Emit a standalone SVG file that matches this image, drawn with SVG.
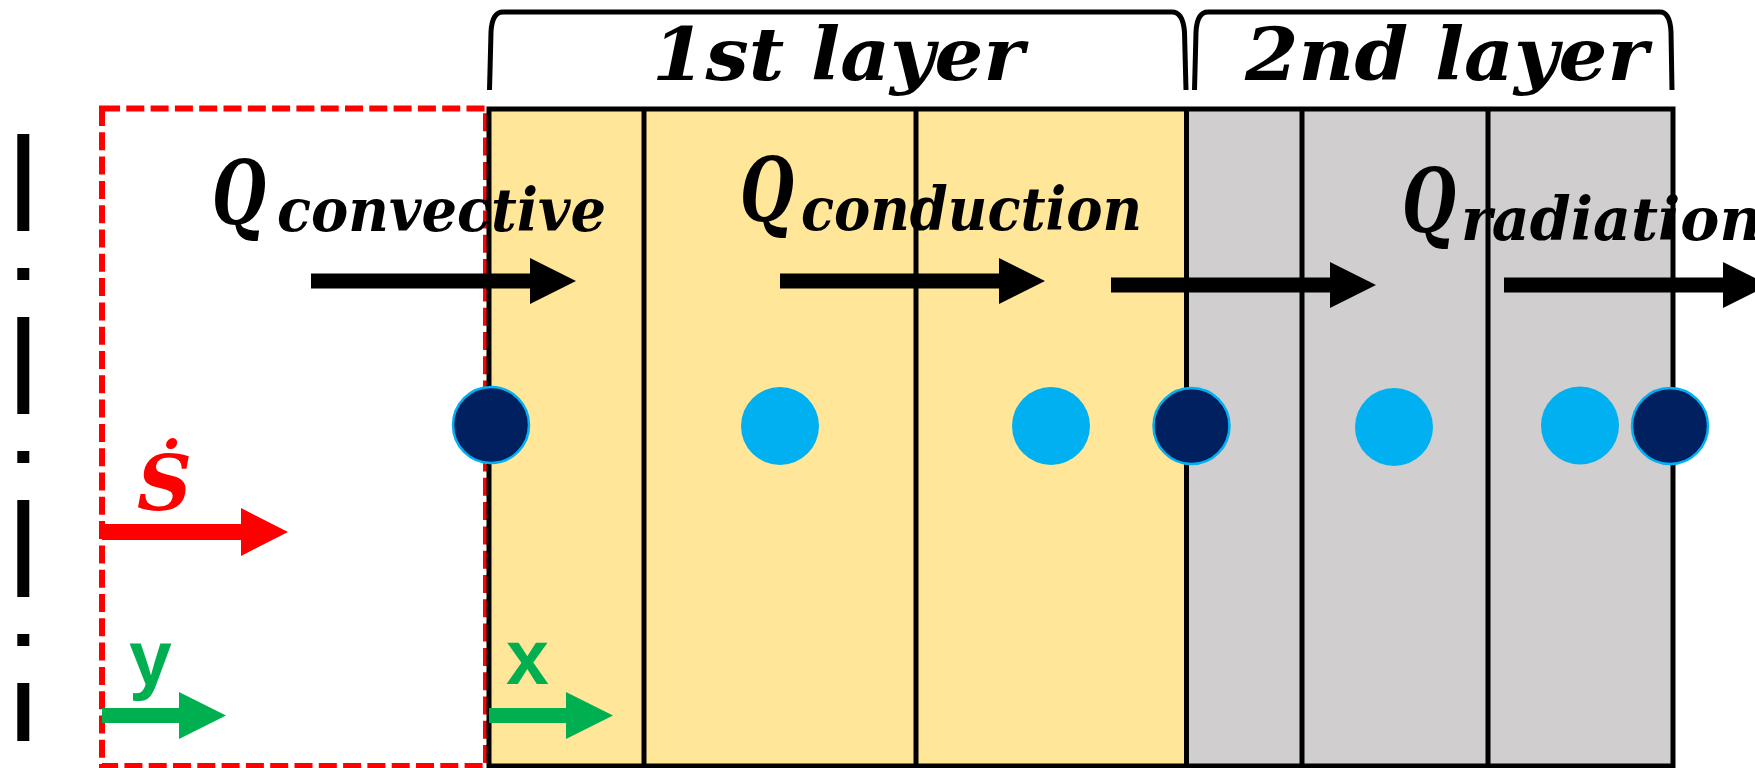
<svg xmlns="http://www.w3.org/2000/svg" width="1755" height="768" viewBox="0 0 1755 768">
<style>
.ser{font-family:"DejaVu Serif",serif;font-weight:bold;font-style:italic;fill:#000}
.q{font-size:88px}
.sub{font-size:60px}
.ln{stroke:#000;stroke-width:5;fill:none}
.brace{stroke:#000;stroke-width:5;fill:none;stroke-linejoin:round}
.navy{fill:#002060;stroke:#00B0F0;stroke-width:2.5}
.lb{fill:#00B0F0}
.grn{font-family:"Liberation Sans",Arial,sans-serif;font-weight:bold;fill:#00B050;font-size:77px}
</style>
<defs>
<path id="bigArrow" d="M0,-7.5 H219 V-23 L265,0 L219,23 V7.5 H0 Z"/>
<path id="smallArrow" d="M0,-7.5 H77 V-23.5 L124,0 L77,23.5 V7.5 H0 Z"/>
</defs>

<g id="axis-line">
<line x1="23.3" y1="134" x2="23.3" y2="741" stroke="#000" stroke-width="12" stroke-dasharray="97 37 12 37"/>
</g>

<g id="control-volume">
<rect x="102" y="108.5" width="384" height="657.5" fill="none" stroke="#FF0000" stroke-width="6" stroke-dasharray="18 6.3"/>
</g>

<g id="layer1">
<rect x="489" y="109" width="697.5" height="657" fill="#FFE699"/>
</g>
<g id="layer2">
<rect x="1186.5" y="109" width="486.5" height="657" fill="#D0CECE"/>
</g>

<g id="labels">
<text class="ser"><tspan class="q" x="212" y="224" textLength="54" lengthAdjust="spacingAndGlyphs">Q</tspan><tspan class="sub" x="277" y="231" textLength="329" lengthAdjust="spacingAndGlyphs">convective</tspan></text>
<text class="ser"><tspan class="q" x="740" y="221" textLength="54" lengthAdjust="spacingAndGlyphs">Q</tspan><tspan class="sub" x="801" y="230" textLength="341" lengthAdjust="spacingAndGlyphs">conduction</tspan></text>
<text class="ser"><tspan class="q" x="1402" y="232" textLength="54" lengthAdjust="spacingAndGlyphs">Q</tspan><tspan class="sub" x="1461" y="240" textLength="301" lengthAdjust="spacingAndGlyphs">radiation</tspan></text>
</g>

<g id="grid-lines">
<rect x="489" y="109" width="1184" height="657" class="ln"/>
<line x1="644" y1="109" x2="644" y2="766" class="ln"/>
<line x1="916" y1="109" x2="916" y2="766" class="ln"/>
<line x1="1186.5" y1="109" x2="1186.5" y2="766" class="ln"/>
<line x1="1302" y1="109" x2="1302" y2="766" class="ln"/>
<line x1="1488" y1="109" x2="1488" y2="766" class="ln"/>
</g>

<g id="braces">
<path class="brace" d="M489.5,90 L491,32 Q492,12 503,12 L1172,12 Q1183,12 1184.5,32 L1186,90"/>
<path class="brace" d="M1194.5,90 L1196,32 Q1197,12 1208,12 L1660,12 Q1670,12 1671,32 L1672,90"/>
<text class="ser" x="652" y="80" font-size="73" textLength="372" lengthAdjust="spacingAndGlyphs">1st layer</text>
<text class="ser" x="1245" y="80" font-size="73" textLength="403" lengthAdjust="spacingAndGlyphs">2nd layer</text>
</g>

<g id="connectors">
<use href="#bigArrow" x="311" y="281"/>
<use href="#bigArrow" x="780" y="281"/>
<use href="#bigArrow" x="1111" y="285"/>
<use href="#bigArrow" x="1504" y="285"/>
<path d="M102,524 H241 V508 L288,532 L241,556 V540 H102 Z" fill="#FF0000"/>
<use href="#smallArrow" x="102" y="715.5" fill="#00B050"/>
<use href="#smallArrow" x="489" y="715.5" fill="#00B050"/>
</g>

<g id="nodes">
<circle id="n1" class="navy" cx="491" cy="425" r="38"/>
<circle id="n2" class="lb" cx="780" cy="426" r="39"/>
<circle id="n3" class="lb" cx="1051" cy="426" r="39"/>
<circle id="n4" class="navy" cx="1191.5" cy="426" r="38"/>
<circle id="n5" class="lb" cx="1394" cy="427" r="39"/>
<circle id="n6" class="lb" cx="1580" cy="425.5" r="39"/>
<circle id="n7" class="navy" cx="1670" cy="426" r="38"/>
</g>

<g id="symbols">
<text class="ser" x="137" y="510" font-size="76" style="fill:#FF0000">Ṡ</text>
<text class="grn" x="129" y="685">y</text>
<text class="grn" x="506" y="684">x</text>
</g>
</svg>
